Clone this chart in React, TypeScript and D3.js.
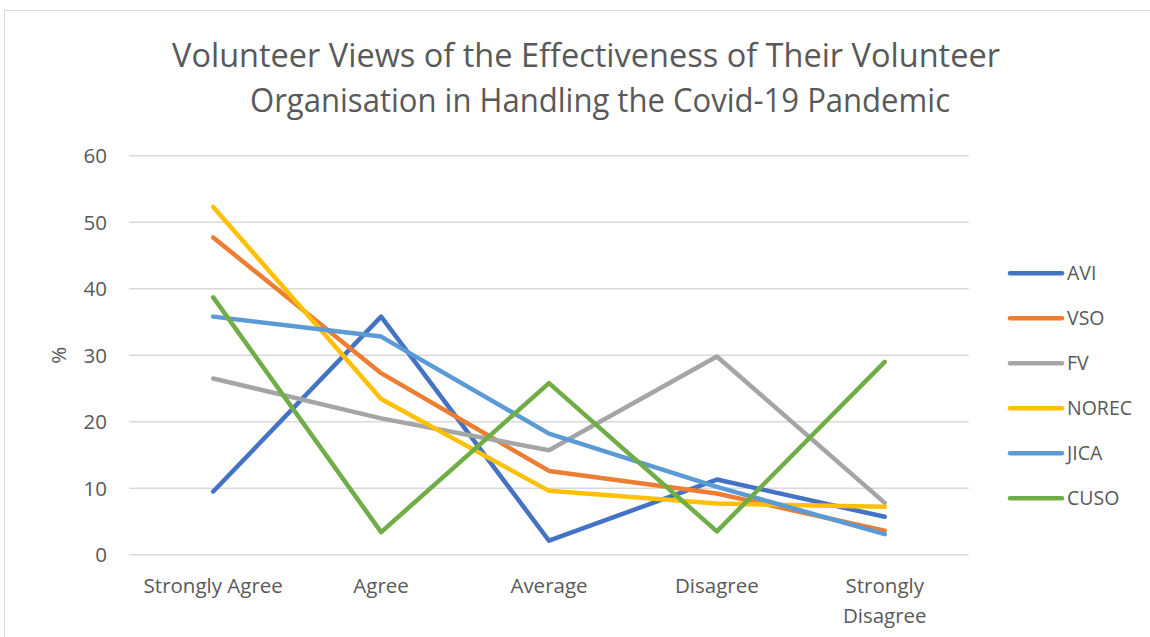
import React from "react";
import * as d3 from "d3";

const categories = ["Strongly Agree", "Agree", "Average", "Disagree", "Strongly Disagree"];
const seriesNames = ["AVI", "VSO", "FV", "NOREC", "JICA", "CUSO"];
const seriesColors = ["#4472C4", "#ED7D31", "#A5A5A5", "#FFC000", "#5B9BD5", "#70AD47"];
const aviValues = [9.5, 35.8, 2.1, 11.3, 5.7];
const vsoValues = [47.7, 27.3, 12.6, 9.2, 3.6];
const fvValues = [26.5, 20.5, 15.7, 29.8, 7.8];
const norecValues = [52.3, 23.4, 9.6, 7.7, 7.2];
const jicaValues = [35.8, 32.8, 18.2, 10.2, 3.1];
const cusoValues = [38.7, 3.4, 25.8, 3.5, 29.0];
const yTicks = [0, 10, 20, 30, 40, 50, 60];
const titleLines = [
  "Volunteer Views of the Effectiveness of Their Volunteer",
  "Organisation in Handling the Covid-19 Pandemic",
];

const allValues = [aviValues, vsoValues, fvValues, norecValues, jicaValues, cusoValues];

export default function App() {
  const W = 1150;
  const H = 637;
  const plotLeft = 129.3;
  const plotRight = 968.7;
  const plotTop = 155.7;
  const plotBottom = 554.7;

  const x = d3.scaleBand<string>().domain(categories).range([plotLeft, plotRight]);
  const y = d3.scaleLinear().domain([0, 60]).range([plotBottom, plotTop]);
  const cx = (c: string) => (x(c) as number) + x.bandwidth() / 2;

  const line = d3
    .line<number>()
    .x((_, i) => cx(categories[i]))
    .y((d) => y(d));

  const font = "'Open Sans', 'Noto Sans', sans-serif";
  const textColor = "#595959";
  const fs = 20.5;

  return (
    <svg
      width={W}
      height={H}
      style={{ position: "absolute", left: 0, top: 0, background: "#fff" }}
      fontFamily={font}
    >
      <rect x={4.5} y={10.5} width={1160} height={640} fill="#fff" stroke="#D9D9D9" strokeWidth={1} />
      {titleLines.map((t, i) => (
        <text
          key={i}
          x={i === 0 ? 586 : 600}
          y={i === 0 ? 67 : 112}
          textAnchor="middle"
          fontSize={32}
          fill={textColor}
          textLength={i === 0 ? 828 : 700}
          lengthAdjust="spacingAndGlyphs"
        >
          {t}
        </text>
      ))}
      {yTicks.map((t) => (
        <g key={t}>
          <line x1={plotLeft} x2={plotRight} y1={y(t)} y2={y(t)} stroke="#D9D9D9" strokeWidth={1.5} />
          <text x={107} y={y(t)} dy="0.36em" textAnchor="end" fontSize={fs} fill={textColor}>
            {t}
          </text>
        </g>
      ))}
      <text
        transform={`translate(66, ${(plotTop + plotBottom) / 2}) rotate(-90)`}
        textAnchor="middle"
        fontSize={fs}
        fill={textColor}
      >
        %
      </text>
      {categories.map((c) => {
        const parts = c === "Strongly Disagree" ? ["Strongly", "Disagree"] : [c];
        return (
          <text key={c} x={cx(c)} y={593} textAnchor="middle" fontSize={fs} fill={textColor}>
            {parts.map((p, i) => (
              <tspan key={i} x={cx(c)} dy={i === 0 ? 0 : 30}>
                {p}
              </tspan>
            ))}
          </text>
        );
      })}
      {allValues.map((vals, i) => (
        <path
          key={seriesNames[i]}
          d={line(vals) || ""}
          fill="none"
          stroke={seriesColors[i]}
          strokeWidth={4.5}
          strokeLinecap="round"
          strokeLinejoin="round"
        />
      ))}
      {seriesNames.map((n, i) => {
        const ly = 273.3 + i * 45;
        return (
          <g key={n}>
            <line x1={1010} x2={1062} y1={ly} y2={ly} stroke={seriesColors[i]} strokeWidth={4.5} strokeLinecap="round" />
            <text x={1067} y={ly} dy="0.36em" fontSize={19.5} fill={textColor}>
              {n}
            </text>
          </g>
        );
      })}
    </svg>
  );
}
